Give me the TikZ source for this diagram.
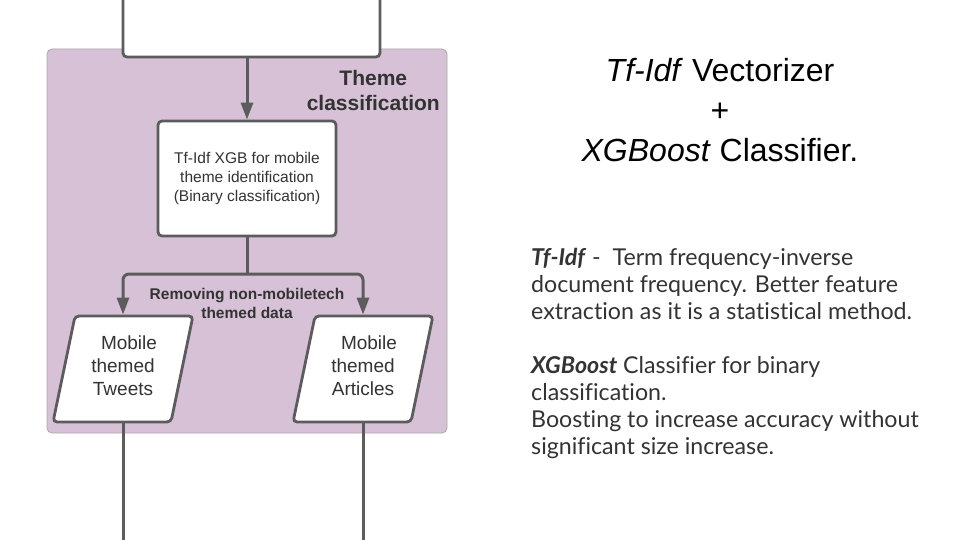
\documentclass[tikz,border=0pt]{standalone}
\usepackage{fontspec}
\setmainfont{Liberation Sans}
\newfontfamily\latofont[Ligatures=NoCommon]{Lato}
\usetikzlibrary{arrows.meta,shapes.geometric,backgrounds}

\definecolor{themefill}{HTML}{D6C1D6}
\definecolor{themeline}{HTML}{A9A9A9}
\definecolor{lnc}{HTML}{5C5C5C}
\definecolor{txtc}{HTML}{333333}

\begin{document}
\begin{tikzpicture}[
  x=1pt, y=-1pt,
  font=\fontsize{15.5}{19}\selectfont,
  blk/.style={
    draw=lnc,
    line width=2.8pt,
    fill=white,
    rounded corners=4pt,
    align=center,
    text=txtc,
    inner sep=2pt
  },
  proc/.style={blk, minimum width=178, minimum height=115},
  datab/.style={
    blk,
    trapezium,
    trapezium left angle=76.7,
    trapezium right angle=103.3,
    trapezium stretches=true,
    minimum width=140,
    minimum height=106,
    font=\fontsize{19}{23}\selectfont
  },
  conn/.style={draw=lnc, line width=3pt},
  flow/.style={
    conn,
    -{Triangle[length=17pt,width=12pt]}
  },
  group/.style={
    draw=themeline,
    fill=themefill,
    line width=0.8pt,
    rounded corners=5pt,
    minimum width=400,
    minimum height=384
  },
  grouplabel/.style={
    font=\bfseries\fontsize{21}{25}\selectfont,
    text=txtc,
    align=center,
    inner sep=0pt
  },
  edgefont/.style={
    font=\bfseries\fontsize{15.5}{19}\selectfont,
    text=txtc,
    align=center,
    inner sep=0pt
  },
  headline/.style={
    font=\fontsize{32}{40}\selectfont,
    align=center,
    inner sep=0pt
  },
  notes/.style={
    font=\latofont\fontsize{23.2}{27}\selectfont,
    text=txtc,
    align=left,
    inner sep=0pt
  }
]

\clip (0,0) rectangle (960,540);

\begin{pgfonlayer}{background}
  \node[group] (themegrp) at (247,241) {};
\end{pgfonlayer}

\node[blk, minimum width=257, minimum height=94] (src) at (251.5,10) {};

\node[proc] (clf) at (247,178.5)
  {Tf-Idf XGB for mobile\\theme identification\\(Binary classification)};

\node[datab] (tw) at (123,369)
  {\hspace*{12pt}Mobile\\themed\\Tweets\hspace*{10pt}\\[-17pt]};

\node[datab] (ar) at (363,369)
  {\hspace*{12pt}Mobile\\themed\\Articles\hspace*{10pt}\\[-17pt]};

\node[grouplabel, anchor=east] (grplbl) at (440,90.5)
  {Theme\\classification};

\node[edgefont] (rmlbl) at (247,303)
  {Removing non-mobiletech\\themed data};

\coordinate (split) at (247,274);
\coordinate (twout) at (123,550);
\coordinate (arout) at (363,550);

\draw[flow] (src.south -| clf.north) -- (clf.north);

\draw[conn] (clf.south) -- (split);

\draw[flow, rounded corners=6pt] (split)
  -| (tw.center |- tw.north);

\draw[flow, rounded corners=6pt] (split)
  -| (ar.center |- ar.north);

\draw[conn] (tw.south -| tw.center) -- (twout);
\draw[conn] (ar.south -| ar.center) -- (arout);

\node[headline] (title) at (720,110)
  {\textit{Tf-Idf} Vectorizer\\+\\\textit{XGBoost} Classifier.};

\node[notes, anchor=north west] (expl) at (531,248)
  {\textbf{\textit{Tf-Idf}} -\ \ Term frequency-inverse\\
   document frequency. Better feature\\
   extraction as it is a statistical method.\\[27pt]
   \textbf{\textit{XGBoost}} Classifier for binary\\
   classification.\\
   Boosting to increase accuracy without\\
   significant size increase.};

\end{tikzpicture}
\end{document}
